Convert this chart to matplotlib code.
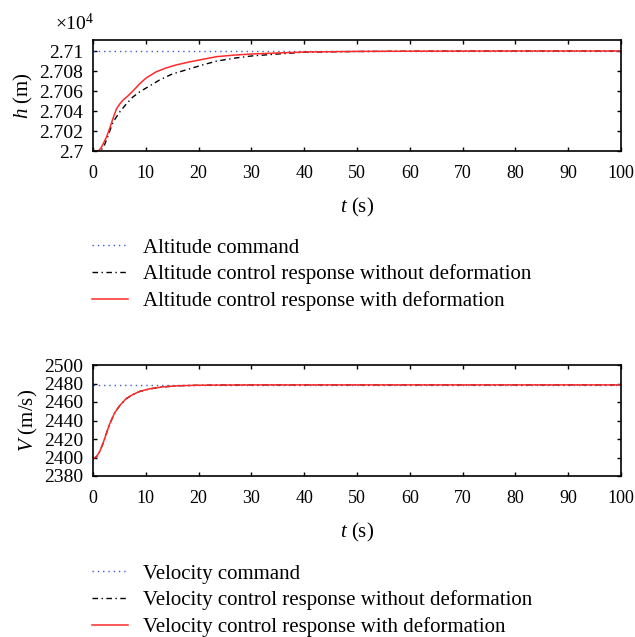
import numpy as np
import matplotlib
matplotlib.use("Agg")
import matplotlib.pyplot as plt
from matplotlib.ticker import FuncFormatter

plt.rcParams["font.family"] = ["Liberation Serif", "DejaVu Serif"]
plt.rcParams["mathtext.fontset"] = "custom"
plt.rcParams["mathtext.rm"] = "Liberation Serif"
plt.rcParams["mathtext.it"] = "Liberation Serif:italic"

# --- altitude (m) ---
h_cmd = 27100.0
t_h_def = [0, 1.0, 1.5, 1.94, 2.56, 3.19, 3.81, 4.44, 5.06, 5.7, 6.6, 7.56, 8.8, 10.06,
           11.9, 13.8, 15.7, 18.2, 20.1, 23.5, 27, 30, 35, 40, 50, 60, 80, 100]
h_def = [27000, 27000, 27003, 27007.3, 27014, 27023, 27033, 27042, 27047, 27051, 27055,
         27060, 27067, 27073, 27079, 27083, 27086, 27089, 27091, 27094.4, 27096, 27097,
         27098, 27099, 27099.6, 27099.8, 27100, 27100]
t_h_nodef = [0, 1.3, 1.8, 2.25, 2.9, 3.8, 5.06, 6.3, 7.56, 8.8, 10.7, 12.6, 15, 18.2, 20.7,
             23.5, 27, 30, 35, 40, 50, 60, 80, 100]
h_nodef = [27000, 27000, 27002.5, 27007, 27016, 27029, 27039, 27047, 27054, 27059, 27065,
           27071, 27077, 27082, 27086, 27090, 27093, 27095, 27097, 27098.8, 27099.5,
           27099.8, 27100, 27100]

# --- velocity (m/s) ---
v_cmd = 2478.5
t_v = [0, 0.69, 1.31, 1.94, 2.56, 3.19, 4.1, 5.06, 6.3, 7.56, 8.8, 10.7, 13.2, 16.3, 20,
       23.5, 30, 40, 100]
v_def = [2398.7, 2401, 2407, 2416, 2426.6, 2436.7, 2448.3, 2456.2, 2463.8, 2468.1, 2471.4,
         2474.2, 2476.4, 2477.6, 2478.1, 2478.3, 2478.5, 2478.5, 2478.5]
v_nodef = [2398.7, 2400.9, 2406.8, 2415.8, 2426.4, 2436.5, 2448.1, 2456.0, 2463.6, 2468.0,
           2471.3, 2474.1, 2476.3, 2477.6, 2478.1, 2478.3, 2478.5, 2478.5, 2478.5]

fs = 14
fig = plt.figure(figsize=(6.35, 6.37), dpi=100)
ax1 = fig.add_axes([93 / 635, 1 - 151 / 637, 528 / 635, 111 / 637])
ax2 = fig.add_axes([93 / 635, 1 - 476 / 637, 528 / 635, 111 / 637])

blue = "#3a5bd0"
red = "#ff2a2a"
dot = (0, (1, 2.8))
dashdot = (0, (4, 2.5, 1, 2.5))

l1, = ax1.plot([0, 100], [h_cmd / 1e4, h_cmd / 1e4], ls=dot, color=blue, lw=1.0)
l2, = ax1.plot(np.array(t_h_nodef), np.array(h_nodef) / 1e4, ls=dashdot, color="black", lw=1.0)
l3, = ax1.plot(np.array(t_h_def), np.array(h_def) / 1e4, color=red, lw=1.1)
ax1.set_xlim(0, 100)
ax1.set_ylim(2.7, 2.7111)
ax1.set_yticks([2.7, 2.702, 2.704, 2.706, 2.708, 2.71])
ax1.yaxis.set_major_formatter(FuncFormatter(lambda v, p: f"{v:g}"))
ax1.set_ylabel(r"$h$ (m)", fontsize=fs + 1, labelpad=3)
ax1.set_xlabel(r"$t$ (s)", fontsize=fs + 1, labelpad=10)
ax1.text(-0.072, 1.05, r"$\times10^4$", transform=ax1.transAxes, ha="left",
         va="bottom", fontsize=fs)

m1, = ax2.plot([0, 100], [v_cmd, v_cmd], ls=dot, color=blue, lw=1.0)
m2, = ax2.plot(t_v, v_nodef, ls=dashdot, color="black", lw=1.0)
m3, = ax2.plot(t_v, v_def, color=red, lw=1.1)
ax2.set_xlim(0, 100)
ax2.set_ylim(2380, 2500)
ax2.set_yticks(np.arange(2380, 2501, 20))
ax2.set_ylabel(r"$V$ (m/s)", fontsize=fs + 1, labelpad=3)
ax2.set_xlabel(r"$t$ (s)", fontsize=fs + 1, labelpad=10)

for ax in (ax1, ax2):
    ax.set_xticks(np.arange(0, 101, 10))
    ax.tick_params(direction="in", top=True, right=True, length=3, width=1)
    ax.tick_params(axis="x", pad=10, labelsize=13)
    ax.tick_params(axis="y", pad=7, labelsize=fs)
    for s in ax.spines.values():
        s.set_linewidth(1.2)

leg_kw = dict(loc="upper left", frameon=False, fontsize=15, handlelength=1.75,
              handletextpad=0.7, labelspacing=0.33, borderpad=0, borderaxespad=0)
fig.legend([l1, l2, l3], ["Altitude command",
                          "Altitude control response without deformation",
                          "Altitude control response with deformation"],
           bbox_to_anchor=(92 / 635, 1 - 238 / 637), **leg_kw)
fig.legend([m1, m2, m3], ["Velocity command",
                          "Velocity control response without deformation",
                          "Velocity control response with deformation"],
           bbox_to_anchor=(92 / 635, 1 - 564 / 637), **leg_kw)

fig.savefig("out.png", dpi=100)
